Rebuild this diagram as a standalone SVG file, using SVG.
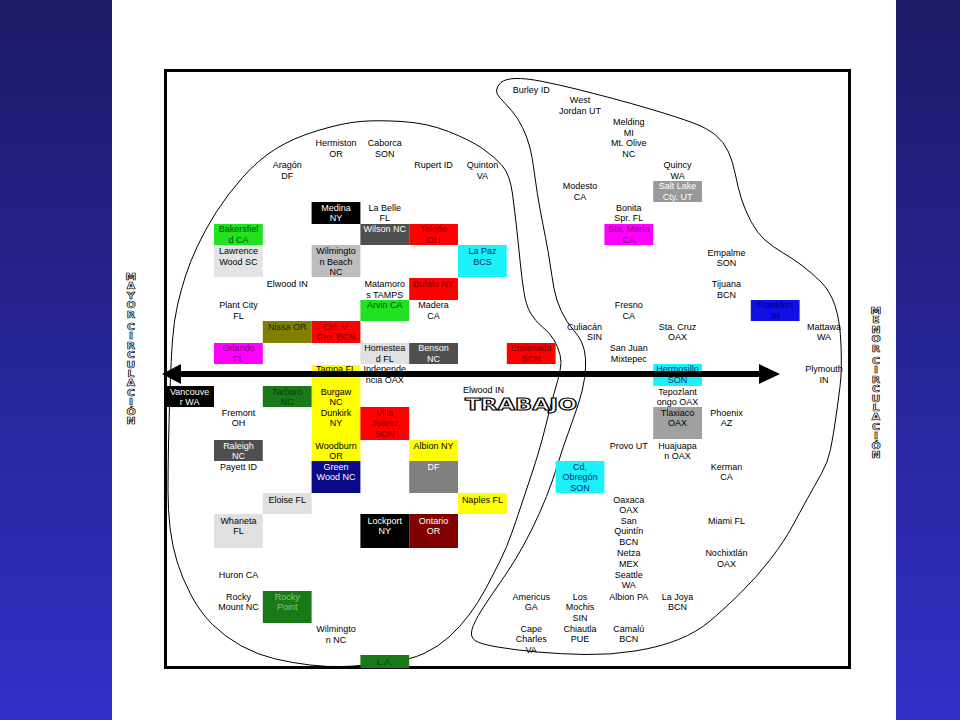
<svg xmlns="http://www.w3.org/2000/svg" width="960" height="720" viewBox="0 0 960 720">
<defs>
<linearGradient id="bg" x1="0" y1="0" x2="0" y2="1">
<stop offset="0" stop-color="#1c1a66"/>
<stop offset="1" stop-color="#3030c8"/>
</linearGradient>
<style>
text{font-family:"Liberation Sans",Arial,sans-serif;font-size:9px;text-anchor:middle;fill:#000}
.w{fill:#fff}
.dr{fill:#7a0000}
.dg{fill:#005500}
.dk{fill:#0b3d0b}
.lg{fill:#8fc08f}
.pu{fill:#7a007a}
.nv{fill:#003070}
.bn{fill:#000070}
.ol{fill:#202000}
.side{font-family:"DejaVu Sans",sans-serif;font-size:8px;font-weight:bold;fill:#fff;stroke:#000;stroke-width:0.6}
.blob{fill:none;stroke:#000;stroke-width:1}
</style>
</defs>
<rect width="960" height="720" fill="url(#bg)"/>
<rect x="112" y="0" width="784" height="720" fill="#fff"/>
<rect id="frame" x="165.5" y="70.5" width="684" height="597" fill="none" stroke="#000" stroke-width="3"/>

<g id="side-left">
<text class="side" transform="translate(131 0) scale(1.35 1)"><tspan x="0" y="280">M</tspan><tspan x="0" y="289.4">A</tspan><tspan x="0" y="298.8">Y</tspan><tspan x="0" y="308.2">O</tspan><tspan x="0" y="317.6">R</tspan><tspan x="0" y="330">C</tspan><tspan x="0" y="339.4">I</tspan><tspan x="0" y="348.8">R</tspan><tspan x="0" y="358.2">C</tspan><tspan x="0" y="367.6">U</tspan><tspan x="0" y="377">L</tspan><tspan x="0" y="386.4">A</tspan><tspan x="0" y="395.8">C</tspan><tspan x="0" y="405.2">I</tspan><tspan x="0" y="414.6">Ó</tspan><tspan x="0" y="424">N</tspan></text>
</g>
<g id="side-right">
<text class="side" transform="translate(876 0) scale(1.35 1)"><tspan x="0" y="314">M</tspan><tspan x="0" y="323.4">E</tspan><tspan x="0" y="332.8">N</tspan><tspan x="0" y="342.2">O</tspan><tspan x="0" y="351.6">R</tspan><tspan x="0" y="364">C</tspan><tspan x="0" y="373.4">I</tspan><tspan x="0" y="382.8">R</tspan><tspan x="0" y="392.2">C</tspan><tspan x="0" y="401.6">U</tspan><tspan x="0" y="411">L</tspan><tspan x="0" y="420.4">A</tspan><tspan x="0" y="429.8">C</tspan><tspan x="0" y="439.2">I</tspan><tspan x="0" y="448.6">Ó</tspan><tspan x="0" y="458">N</tspan></text>
</g>

<g id="regions">
<path class="blob" d="M318,130.5 Q343,123 360,121.5 Q377,120 402,121.5 Q427,123 448.5,131.5 Q470,140 482.5,148.5 Q495,157 502.5,166 Q510,175 512.5,194 Q515,213 517,231.5 Q519,250 520.5,265 Q522,280 524,292.5 Q526,305 530.5,313 Q535,321 542.5,327 Q550,333 554,340 Q558,347 560,354.5 Q562,362 560,371 Q558,380 555,390 Q552,400 549,412.5 Q546,425 542,440 Q538,455 533,470 Q528,485 523,500 Q518,515 512.5,531 Q507,547 500,561 Q493,575 485.5,589 Q478,603 469,615 Q460,627 449,637 Q438,647 424,653.5 Q410,660 385,663 Q360,666 343.5,666.5 Q327,667 310,665 Q293,663 275.5,659 Q258,655 241.5,646 Q225,637 212.5,624.5 Q200,612 191,595 Q182,578 177,561.5 Q172,545 170,527.5 Q168,510 168,490 Q168,470 168.5,445 Q169,420 170,390 Q171,360 172.5,340 Q174,320 177.5,305 Q181,290 185.5,276 Q190,262 197.5,246 Q205,230 216,212.5 Q227,195 242.5,177.5 Q258,160 275.5,149 Q293,138 318,130.5 Z"/>
<path class="blob" d="M496.5,90 Q497,86 501,82.5 Q505,79 515,78.5 Q525,78 542.5,81.5 Q560,85 576,89 Q592,93 611,98 Q630,103 653.5,110 Q677,117 692,122.5 Q707,128 715.5,135 Q724,142 728.5,152 Q733,162 735.5,175 Q738,188 741.5,199 Q745,210 751,221.5 Q757,233 765,240 Q773,247 782.5,252.5 Q792,258 802,265.5 Q812,273 821,282 Q830,291 835,305.5 Q840,320 841,345 Q842,370 840,386.5 Q838,403 835.5,420 Q833,437 830.5,449.5 Q828,462 821.5,473.5 Q815,485 807.5,498.5 Q800,512 792.5,526 Q785,540 771,558.5 Q757,577 740,593.5 Q723,610 710,621 Q697,632 678.5,639.5 Q660,647 635,651 Q610,655 585,654.5 Q560,654 537.5,652 Q515,650 497.5,647 Q480,644 475,640.5 Q470,637 472,629.5 Q474,622 482,609.5 Q490,597 498.5,585 Q507,573 515,560 Q523,547 531.5,530 Q540,513 546.5,496.5 Q553,480 558,463.5 Q563,447 568,433.5 Q573,420 578,405 Q583,390 584.5,378.5 Q586,367 585.5,358.5 Q585,350 582,343 Q579,336 573,329.5 Q567,323 561.5,311.5 Q556,300 554,288.5 Q552,277 550,263.5 Q548,250 545.5,237.5 Q543,225 540,209 Q537,193 534.5,174 Q532,155 529.5,146 Q527,137 522.5,127.5 Q518,118 511.5,110.5 Q505,103 500.5,98.5 Q496,94 496.5,90 Z"/>
</g>

<g id="burley"><text x="531.2" y="92.7">Burley ID</text></g>
<g id="westjordan"><text><tspan x="580" y="103.2">West</tspan><tspan x="580" y="113.7">Jordan UT</tspan></text></g>
<g id="melding"><text><tspan x="628.8" y="124.9">Melding</tspan><tspan x="628.8" y="135.6">MI</tspan><tspan x="628.8" y="146.3">Mt. Olive</tspan><tspan x="628.8" y="157">NC</tspan></text></g>
<g id="hermiston"><text><tspan x="336" y="146.4">Hermiston</tspan><tspan x="336" y="157">OR</tspan></text></g>
<g id="caborca"><text><tspan x="384.8" y="146.4">Caborca</tspan><tspan x="384.8" y="157">SON</tspan></text></g>
<g id="aragon"><text><tspan x="287.2" y="168.2">Aragón</tspan><tspan x="287.2" y="178.7">DF</tspan></text></g>
<g id="rupert"><text x="433.6" y="168.2">Rupert ID</text></g>
<g id="quinton"><text><tspan x="482.4" y="168.2">Quinton</tspan><tspan x="482.4" y="178.7">VA</tspan></text></g>
<g id="quincy"><text><tspan x="677.6" y="168.2">Quincy</tspan><tspan x="677.6" y="178.7">WA</tspan></text></g>
<g id="modesto"><text><tspan x="580" y="189.2">Modesto</tspan><tspan x="580" y="200.2">CA</tspan></text></g>
<g id="labelle"><text><tspan x="384.8" y="210.7">La Belle</tspan><tspan x="384.8" y="221.2">FL</tspan></text></g>
<g id="bonita"><text><tspan x="628.8" y="210.7">Bonita</tspan><tspan x="628.8" y="221.2">Spr. FL</tspan></text></g>
<g id="empalme"><text><tspan x="726.4" y="255.7">Empalme</tspan><tspan x="726.4" y="266.2">SON</tspan></text></g>
<g id="elwood1"><text x="287.2" y="287.2">Elwood IN</text></g>
<g id="matamoros"><text><tspan x="384.8" y="287.2">Matamoro</tspan><tspan x="384.8" y="297.7">s TAMPS</tspan></text></g>
<g id="tijuana"><text><tspan x="726.4" y="287.2">Tijuana</tspan><tspan x="726.4" y="297.7">BCN</tspan></text></g>
<g id="plantcity"><text><tspan x="238.4" y="308.2">Plant City</tspan><tspan x="238.4" y="318.7">FL</tspan></text></g>
<g id="madera"><text><tspan x="433.6" y="308.2">Madera</tspan><tspan x="433.6" y="318.7">CA</tspan></text></g>
<g id="fresno"><text><tspan x="628.8" y="308.2">Fresno</tspan><tspan x="628.8" y="318.7">CA</tspan></text></g>
<g id="culiacan"><text style="text-anchor:end"><tspan x="602" y="329.7">Culiacán</tspan><tspan x="602" y="340.2">SIN</tspan></text></g>
<g id="stacruz"><text><tspan x="677.6" y="329.7">Sta. Cruz</tspan><tspan x="677.6" y="340.2">OAX</tspan></text></g>
<g id="mattawa"><text><tspan x="824" y="329.7">Mattawa</tspan><tspan x="824" y="340.2">WA</tspan></text></g>
<g id="sanjuan"><text><tspan x="628.8" y="351.2">San Juan</tspan><tspan x="628.8" y="361.7">Mixtepec</tspan></text></g>
<g id="independencia"><text><tspan x="384.8" y="372.2">Independe</tspan><tspan x="384.8" y="383.2">ncia OAX</tspan></text></g>
<g id="plymouth"><text><tspan x="824" y="372.2">Plymouth</tspan><tspan x="824" y="383.2">IN</tspan></text></g>
<g id="elwood2"><text x="463" y="393.2" style="text-anchor:start">Elwood IN</text></g>
<g id="trabajo"><text x="465" y="409.5" textLength="112" lengthAdjust="spacingAndGlyphs" style="text-anchor:start;font-family:'DejaVu Sans',sans-serif;font-size:15px;font-weight:bold;fill:#fff;stroke:#000;stroke-width:1">TRABAJO</text></g>
<g id="tepozlantongo"><text><tspan x="677.6" y="394.7">Tepozlant</tspan><tspan x="677.6" y="405.2">ongo OAX</tspan></text></g>
<g id="fremont"><text><tspan x="238.4" y="415.7">Fremont</tspan><tspan x="238.4" y="426.2">OH</tspan></text></g>
<g id="phoenix"><text><tspan x="726.4" y="415.7">Phoenix</tspan><tspan x="726.4" y="426.2">AZ</tspan></text></g>
<g id="provo"><text x="628.8" y="448.7">Provo UT</text></g>
<g id="huajuapan"><text><tspan x="677.6" y="448.7">Huajuapa</tspan><tspan x="677.6" y="459.2">n OAX</tspan></text></g>
<g id="payett"><text x="238.4" y="469.7">Payett ID</text></g>
<g id="kerman"><text><tspan x="726.4" y="469.7">Kerman</tspan><tspan x="726.4" y="480.2">CA</tspan></text></g>
<g id="oaxaca"><text><tspan x="628.8" y="502.7">Oaxaca</tspan><tspan x="628.8" y="513.2">OAX</tspan></text></g>
<g id="sanquintin"><text><tspan x="628.8" y="523.7">San</tspan><tspan x="628.8" y="534.2">Quintín</tspan><tspan x="628.8" y="545.2">BCN</tspan></text></g>
<g id="miami"><text x="726.4" y="523.7">Miami FL</text></g>
<g id="netza"><text><tspan x="628.8" y="556.2">Netza</tspan><tspan x="628.8" y="566.7">MEX</tspan></text></g>
<g id="nochixtlan"><text><tspan x="726.4" y="556.2">Nochixtlán</tspan><tspan x="726.4" y="566.7">OAX</tspan></text></g>
<g id="huron"><text x="238.4" y="578.2">Huron CA</text></g>
<g id="seattle"><text><tspan x="628.8" y="577.7">Seattle</tspan><tspan x="628.8" y="588.2">WA</tspan></text></g>
<g id="rockymount"><text><tspan x="238.4" y="599.7">Rocky</tspan><tspan x="238.4" y="610.2">Mount NC</tspan></text></g>
<g id="americus"><text><tspan x="531.2" y="599.7">Americus</tspan><tspan x="531.2" y="610.2">GA</tspan></text></g>
<g id="losmochis"><text><tspan x="580" y="599.7">Los</tspan><tspan x="580" y="610.2">Mochis</tspan><tspan x="580" y="620.7">SIN</tspan></text></g>
<g id="albionpa"><text x="628.8" y="599.7">Albion PA</text></g>
<g id="lajoya"><text><tspan x="677.6" y="599.7">La Joya</tspan><tspan x="677.6" y="610.2">BCN</tspan></text></g>
<g id="wilmingtonnc"><text><tspan x="336" y="632.2">Wilmingto</tspan><tspan x="336" y="642.7">n NC</tspan></text></g>
<g id="capecharles"><text><tspan x="531.2" y="631.7">Cape</tspan><tspan x="531.2" y="642.2">Charles</tspan><tspan x="531.2" y="652.7">VA</tspan></text></g>
<g id="chiautla"><text><tspan x="580" y="631.7">Chiautla</tspan><tspan x="580" y="642.2">PUE</tspan></text></g>
<g id="camalu"><text><tspan x="628.8" y="631.7">Camalú</tspan><tspan x="628.8" y="642.2">BCN</tspan></text></g>

<g id="saltlake"><rect x="653.2" y="181" width="48.8" height="21" fill="#999"/><text class="w"><tspan x="677.6" y="189.2">Salt Lake</tspan><tspan x="677.6" y="200.2">Cty. UT</tspan></text></g>
<g id="medina"><rect x="311.6" y="202" width="48.8" height="22" fill="#000"/><text class="w"><tspan x="336" y="210.7">Medina</tspan><tspan x="336" y="221.2">NY</tspan></text></g>
<g id="bakersfield"><rect x="214" y="224" width="48.8" height="21" fill="#22e022"/><text class="dg"><tspan x="238.4" y="232.2">Bakersfiel</tspan><tspan x="238.4" y="243.2">d CA</tspan></text></g>
<g id="wilson"><rect x="360.4" y="224" width="48.8" height="21" fill="#4f4f4f"/><text class="w" x="384.8" y="232.2">Wilson NC</text></g>
<g id="toledo"><rect x="409.2" y="224" width="48.8" height="21" fill="#f00"/><text class="dr"><tspan x="433.6" y="232.2">Toledo</tspan><tspan x="433.6" y="243.2">OH</tspan></text></g>
<g id="stamaria"><rect x="604.4" y="224" width="48.8" height="21" fill="#f0f"/><text class="pu"><tspan x="628.8" y="232.2">Sta. María</tspan><tspan x="628.8" y="243.2">CA</tspan></text></g>
<g id="lawrence"><rect x="214" y="245" width="48.8" height="32" fill="#e4e4e4"/><text><tspan x="238.4" y="254.2">Lawrence</tspan><tspan x="238.4" y="264.7">Wood SC</tspan></text></g>
<g id="wilmingtonbeach"><rect x="311.6" y="245" width="48.8" height="32" fill="#bdbdbd"/><text><tspan x="336" y="254.2">Wilmingto</tspan><tspan x="336" y="264.7">n Beach</tspan><tspan x="336" y="275.2">NC</tspan></text></g>
<g id="lapaz"><rect x="458" y="245" width="48.8" height="32" fill="#1cf0f8"/><text class="nv"><tspan x="482.4" y="254.2">La Paz</tspan><tspan x="482.4" y="264.7">BCS</tspan></text></g>
<g id="bufalo"><rect x="409.2" y="278" width="48.8" height="22" fill="#f00"/><text class="dr" x="433.6" y="287.2">Bufalo NY</text></g>
<g id="arvin"><rect x="360.4" y="300" width="48.8" height="21" fill="#22e022"/><text class="dg" x="384.8" y="308.2">Arvin CA</text></g>
<g id="frankfort"><rect x="750.8" y="300" width="48.8" height="21" fill="#0f0fe6"/><text class="bn"><tspan x="775.2" y="308.2">Frankfort</tspan><tspan x="775.2" y="318.7">IN</tspan></text></g>
<g id="nissa"><rect x="262.8" y="321" width="48.8" height="22" fill="#808000"/><text class="ol" x="287.2" y="329.7">Nissa OR</text></g>
<g id="colv"><rect x="311.6" y="321" width="48.8" height="22" fill="#f00"/><text class="dr"><tspan x="336" y="329.7">Col. V.</tspan><tspan x="336" y="340.2">Gro. BCN</tspan></text></g>
<g id="orlando"><rect x="214" y="343" width="48.8" height="21" fill="#f0f"/><text class="pu"><tspan x="238.4" y="351.2">Orlando</tspan><tspan x="238.4" y="361.7">FL</tspan></text></g>
<g id="homestead"><rect x="360.4" y="343" width="48.8" height="21" fill="#e0e0e0"/><text><tspan x="384.8" y="351.2">Homestea</tspan><tspan x="384.8" y="361.7">d FL</tspan></text></g>
<g id="benson"><rect x="409.2" y="343" width="48.8" height="21" fill="#4f4f4f"/><text class="w"><tspan x="433.6" y="351.2">Benson</tspan><tspan x="433.6" y="361.7">NC</tspan></text></g>
<g id="ensenada"><rect x="506.8" y="343" width="48.8" height="21" fill="#f00"/><text class="dr"><tspan x="531.2" y="351.2">Ensenada</tspan><tspan x="531.2" y="361.7">BCN</tspan></text></g>
<g id="yellowcol"><rect x="311.6" y="365" width="48.8" height="96" fill="#ff0"/><text><tspan x="336" y="372.2">Tampa FL</tspan><tspan x="336" y="394.7">Burgaw</tspan><tspan x="336" y="405.2">NC</tspan><tspan x="336" y="415.7">Dunkirk</tspan><tspan x="336" y="426.2">NY</tspan><tspan x="336" y="448.7">Woodburn</tspan><tspan x="336" y="459.2">OR</tspan></text></g>
<g id="hermosillo"><rect x="653.2" y="364" width="48.8" height="22" fill="#1cf0f8"/><text class="nv"><tspan x="677.6" y="372.2">Hermosillo</tspan><tspan x="677.6" y="383.2">SON</tspan></text></g>
<g id="vancouver"><rect x="165.2" y="386" width="48.8" height="21" fill="#000"/><text class="w"><tspan x="189.6" y="394.7">Vancouve</tspan><tspan x="189.6" y="405.2">r WA</tspan></text></g>
<g id="tarboro"><rect x="262.8" y="386" width="48.8" height="21" fill="#177a17"/><text class="dk"><tspan x="287.2" y="394.7">Tarboro</tspan><tspan x="287.2" y="405.2">NC</tspan></text></g>
<g id="villajuarez"><rect x="360.4" y="407" width="48.8" height="33" fill="#f00"/><text class="dr"><tspan x="384.8" y="415.7">Villa</tspan><tspan x="384.8" y="426.2">Juárez</tspan><tspan x="384.8" y="437.2">SON</tspan></text></g>
<g id="tlaxiaco"><rect x="653.2" y="407" width="48.8" height="32" fill="#a0a0a0"/><text><tspan x="677.6" y="415.7">Tlaxiaco</tspan><tspan x="677.6" y="426.2">OAX</tspan></text></g>
<g id="raleigh"><rect x="214" y="440" width="48.8" height="21" fill="#4f4f4f"/><text class="w"><tspan x="238.4" y="448.7">Raleigh</tspan><tspan x="238.4" y="459.2">NC</tspan></text></g>
<g id="albionny"><rect x="409.2" y="440" width="48.8" height="21" fill="#ff0"/><text x="433.6" y="448.7">Albion NY</text></g>
<g id="greenwood"><rect x="311.6" y="461" width="48.8" height="32" fill="#0a0a88"/><text class="w"><tspan x="336" y="469.7">Green</tspan><tspan x="336" y="480.2">Wood NC</tspan></text></g>
<g id="df"><rect x="409.2" y="461" width="48.8" height="32" fill="#808080"/><text class="w" x="433.6" y="469.7">DF</text></g>
<g id="obregon"><rect x="555.6" y="461" width="48.8" height="32" fill="#1cf0f8"/><text class="nv"><tspan x="580" y="469.7">Cd.</tspan><tspan x="580" y="480.2">Obregón</tspan><tspan x="580" y="490.7">SON</tspan></text></g>
<g id="eloise"><rect x="262.8" y="493" width="48.8" height="21" fill="#e0e0e0"/><text x="287.2" y="502.7">Eloise FL</text></g>
<g id="naples"><rect x="458" y="493" width="48.8" height="21" fill="#ff0"/><text x="482.4" y="502.7">Naples FL</text></g>
<g id="whaneta"><rect x="214" y="514" width="48.8" height="34" fill="#e0e0e0"/><text><tspan x="238.4" y="523.7">Whaneta</tspan><tspan x="238.4" y="534.2">FL</tspan></text></g>
<g id="lockport"><rect x="360.4" y="514" width="48.8" height="34" fill="#000"/><text class="w"><tspan x="384.8" y="523.7">Lockport</tspan><tspan x="384.8" y="534.2">NY</tspan></text></g>
<g id="ontario"><rect x="409.2" y="514" width="48.8" height="34" fill="#800000"/><text class="w"><tspan x="433.6" y="523.7">Ontario</tspan><tspan x="433.6" y="534.2">OR</tspan></text></g>
<g id="rockypoint"><rect x="262.8" y="591" width="48.8" height="32" fill="#177a17"/><text class="lg"><tspan x="287.2" y="599.7">Rocky</tspan><tspan x="287.2" y="610.2">Point</tspan></text></g>
<g id="la"><rect x="360.4" y="655" width="48.8" height="13" fill="#177a17"/><text class="dk" x="384.8" y="664.7">L.A.</text></g>

<g id="connectors">
<line x1="178" y1="374" x2="762" y2="374" stroke="#000" stroke-width="6"/>
<polygon points="162,374 181,364 181,384" fill="#000"/>
<polygon points="780,374 759,364 759,384" fill="#000"/>
</g>
</svg>
